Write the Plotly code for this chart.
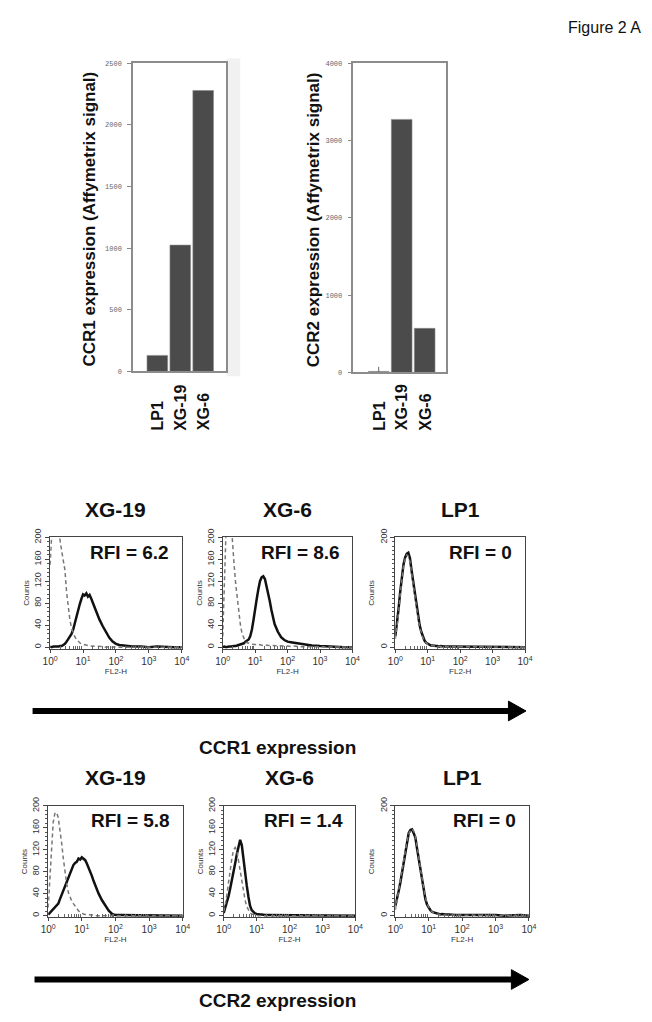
import plotly.graph_objects as go

# page body has an 8px default margin: the figure is placed at (8, 8)
OFF = 8
W, H = 644, 1014

# ---------------- data ----------------
affy_lines = ["LP1", "XG-19", "XG-6"]
ccr1_affy = [130, 1025, 2280]
ccr2_affy = [12, 3275, 570]
ccr2_affy_err = [60, 0, 0]

# FL2-H channel values (log scale 10^0 .. 10^4)
fl2_h = [1.00, 1.12, 1.26, 1.41, 1.58, 1.78, 2.00, 2.24, 2.51, 2.82, 3.16, 3.55, 3.98, 4.47, 5.01,
         5.62, 6.31, 7.08, 7.94, 8.91, 10.0, 11.2, 12.6, 14.1, 15.8, 17.8, 20.0, 22.4, 25.1, 28.2,
         31.6, 39.8, 50.1, 63.1, 79.4, 100, 126, 158, 200, 251, 316, 562, 1000, 1778, 3162, 5623, 10000]

# CCR1 staining (solid) and isotype control (dashed)
ccr1_xg19_stain = [1, 0, 1, 1, 0, 1, 2, 2, 4, 6, 10, 14, 18, 24, 32, 44, 58, 68, 78, 88, 96, 94, 98, 92, 95,
                   88, 80, 74, 66, 58, 50, 38, 26, 17, 10, 6, 4, 3, 2, 2, 1, 1, 0, 1, 0, 0, 0]
ccr1_xg19_iso = [150, 240, 300, 320, 290, 240, 195, 175, 160, 140, 100, 72, 50, 35, 26, 19, 14, 10, 8, 6, 5, 4,
                 3, 3, 2, 2, 2, 1, 2, 1, 1, 1, 0, 1, 0, 1, 0, 0, 1, 0, 0, 0, 0, 0, 0, 0, 0]
ccr1_xg6_stain = [0, 1, 0, 1, 1, 1, 2, 2, 2, 3, 3, 4, 5, 7, 10, 12, 14, 20, 32, 50, 66, 88, 106, 120, 127,
                  129, 124, 112, 98, 84, 68, 42, 28, 18, 13, 10, 9, 8, 7, 6, 5, 3, 2, 1, 0, 0, 0]
ccr1_xg6_iso = [20, 120, 230, 300, 280, 230, 190, 150, 115, 85, 58, 38, 24, 15, 10, 8, 7, 6, 6, 5, 5, 4, 5, 4,
                4, 3, 4, 3, 3, 3, 3, 2, 2, 2, 2, 2, 1, 2, 1, 1, 1, 1, 0, 0, 0, 0, 0]
ccr1_lp1_stain = [20, 40, 70, 100, 130, 150, 163, 170, 172, 162, 140, 118, 98, 75, 55, 40, 28, 18, 12, 8, 6,
                  4, 3, 3, 2, 2, 2, 1, 2, 1, 1, 1, 1, 0, 0, 1, 0, 0, 0, 0, 0, 0, 0, 0, 0, 0, 0]
ccr1_lp1_iso = [15, 35, 62, 95, 125, 148, 160, 168, 166, 155, 135, 112, 92, 70, 52, 37, 25, 17, 11, 7, 5, 4,
                3, 2, 2, 2, 1, 1, 1, 1, 1, 1, 0, 0, 0, 0, 0, 0, 0, 0, 0, 0, 0, 0, 0, 0, 0]

# CCR2 staining (solid) and isotype control (dashed)
ccr2_xg19_stain = [2, 5, 8, 11, 14, 18, 22, 30, 38, 46, 55, 63, 71, 78, 85, 92, 96, 98, 104, 102, 106, 104,
                   101, 95, 88, 80, 72, 63, 55, 47, 40, 28, 18, 9, 3, 1, 1, 1, 0, 1, 1, 1, 1, 0, 1, 0, 0]
ccr2_xg19_iso = [15, 70, 130, 170, 186, 188, 178, 158, 132, 104, 78, 58, 42, 33, 27, 22, 17, 12, 9, 6, 4, 3,
                 2, 2, 1, 1, 1, 1, 0, 0, 1, 0, 0, 0, 0, 0, 0, 0, 0, 0, 0, 0, 0, 0, 0, 0, 0]
ccr2_xg6_stain = [5, 14, 25, 36, 50, 64, 78, 96, 112, 128, 138, 128, 100, 75, 55, 35, 18, 10, 6, 4, 3, 2, 2,
                  2, 1, 1, 1, 1, 0, 1, 0, 0, 0, 0, 0, 0, 0, 0, 0, 0, 0, 0, 0, 0, 0, 0, 0]
ccr2_xg6_iso = [8, 20, 40, 62, 85, 105, 120, 124, 118, 100, 80, 60, 42, 28, 17, 10, 5, 3, 2, 1, 1, 0, 0, 0,
                0, 0, 0, 0, 0, 0, 0, 0, 0, 0, 0, 0, 0, 0, 0, 0, 0, 0, 0, 0, 0, 0, 0]
ccr2_lp1_stain = [18, 35, 45, 60, 78, 100, 120, 138, 150, 156, 157, 150, 142, 122, 104, 82, 62, 45, 30, 20,
                  14, 10, 7, 6, 4, 3, 3, 2, 3, 2, 2, 2, 1, 1, 1, 1, 1, 2, 1, 1, 1, 1, 1, 0, 1, 1, 0]
ccr2_lp1_iso = [10, 28, 42, 58, 76, 98, 118, 136, 148, 155, 158, 154, 145, 128, 108, 86, 66, 48, 33, 22, 15,
                10, 7, 5, 4, 3, 2, 2, 1, 1, 1, 1, 0, 0, 0, 0, 0, 0, 0, 0, 0, 0, 0, 0, 0, 0, 0]

cell_lines_flow = ["XG-19", "XG-6", "LP1"]
rfi_ccr1 = ["6.2", "8.6", "0"]
rfi_ccr2 = ["5.8", "1.4", "0"]

# ---------------- helpers (window pixel -> paper) ----------------
def fx(px):
    return (px - OFF) / W

def fy(py):
    return 1 - (py - OFF) / H

FONT = "Liberation Sans, Arial, sans-serif"
MONO = "Liberation Mono, Courier New, monospace"

fig = go.Figure()
layout = dict(
    width=W, height=H, autosize=False,
    margin=dict(l=0, r=0, t=0, b=0),
    paper_bgcolor="white", plot_bgcolor="white",
    showlegend=False, font=dict(family=FONT, color="#111"),
)
annotations = []
shapes = []

# ---------------- Affymetrix bar charts ----------------
bar_specs = [
    ("x", "y", (128, 223), (55, 367), ccr1_affy, None, 2500, 500, -1.06, 2.98,
     "CCR1 expression (Affymetrix signal)", 83),
    ("x2", "y2", (354, 449), (55, 368), ccr2_affy, ccr2_affy_err, 4000, 1000, -1.1, 2.93,
     "CCR2 expression (Affymetrix signal)", 313),
]
for xa, ya, (x0, x1), (y0, y1), vals, err, ymax, dt, r0, r1, title, tx in bar_specs:
    bar = go.Bar(x=affy_lines, y=vals, xaxis=xa, yaxis=ya, width=0.9,
                 marker=dict(color="#4b4b4b", line=dict(color="#8a8a8a", width=0.6)))
    if err is not None:
        bar.error_y = dict(type="data", array=err, visible=True, width=0, thickness=1, color="#666")
    fig.add_trace(bar)
    xk = "xaxis" + xa[1:]
    yk = "yaxis" + ya[1:]
    layout[xk] = dict(domain=[fx(x0), fx(x1)], anchor=ya, type="category", range=[r0, r1],
                      showticklabels=False, ticks="", showline=True, mirror=True,
                      linecolor="#8c8c8c", linewidth=1.5, showgrid=False, zeroline=False)
    layout[yk] = dict(domain=[fy(y1), fy(y0)], anchor=xa, range=[0, ymax], dtick=dt,
                      tickfont=dict(family=MONO, size=7, color="#666"), ticks="outside",
                      ticklen=4, tickcolor="#888", ticklabelstandoff=4, showline=True, mirror=True,
                      linecolor="#8c8c8c", linewidth=1.5, showgrid=False, zeroline=False)
    annotations.append(dict(text="<b>" + title + "</b>", xref="paper", yref="paper",
                            x=fx(tx), y=fy((y0 + y1) / 2 + 2), textangle=-90, showarrow=False,
                            font=dict(size=17, family=FONT, color="#111"),
                            xanchor="center", yanchor="middle"))
    for c in affy_lines:
        annotations.append(dict(text="<b>" + c + "</b>", xref=xa, yref="paper", x=c,
                                y=fy(429), textangle=-90, showarrow=False,
                                font=dict(size=16, family=FONT, color="#111"),
                                xanchor="center", yanchor="bottom"))

# light grey strip right of first bar chart
shapes.append(dict(type="rect", xref="paper", yref="paper", x0=fx(224), x1=fx(238),
                   y0=fy(372), y1=fy(50), fillcolor="#f1f1f1", line=dict(width=0), layer="below"))

annotations.append(dict(text="Figure 2 A", xref="paper", yref="paper", x=fx(651), y=fy(19),
                        xanchor="right", yanchor="middle", showarrow=False,
                        font=dict(size=16, family=FONT, color="#111")))

# ---------------- flow cytometry histograms ----------------
minor_x = [m * 10 ** d for d in range(4) for m in range(2, 10)]
hist_specs = [
    (ccr1_xg19_stain, ccr1_xg19_iso, (43, 178), (535, 648), 0, rfi_ccr1[0], 507),
    (ccr1_xg6_stain, ccr1_xg6_iso, (220, 353), (535, 648), 1, rfi_ccr1[1], 507),
    (ccr1_lp1_stain, ccr1_lp1_iso, (397, 530), (535, 648), 2, rfi_ccr1[2], 507),
    (ccr2_xg19_stain, ccr2_xg19_iso, (41, 179), (807, 920), 0, rfi_ccr2[0], 778),
    (ccr2_xg6_stain, ccr2_xg6_iso, (221, 356), (807, 920), 1, rfi_ccr2[1], 778),
    (ccr2_lp1_stain, ccr2_lp1_iso, (397, 534), (807, 920), 2, rfi_ccr2[2], 778),
]
for i, (stain, iso, (x0, x1), (y0, y1), ci, rfi, ty) in enumerate(hist_specs):
    n = i + 3
    xa, ya = "x%d" % n, "y%d" % n
    fig.add_trace(go.Scatter(x=fl2_h, y=stain, xaxis=xa, yaxis=ya, mode="lines",
                             line=dict(color="#111", width=2.5), hoverinfo="skip"))
    fig.add_trace(go.Scatter(x=fl2_h, y=iso, xaxis=xa, yaxis=ya, mode="lines",
                             line=dict(color="#777", width=1.5, dash="4px,3px"), hoverinfo="skip"))
    yt = [0, 200] if ci == 2 else [0, 40, 80, 120, 160, 200]
    layout["xaxis%d" % n] = dict(
        domain=[fx(x0), fx(x1)], anchor=ya, type="log", range=[0, 4],
        tickvals=[1, 10, 100, 1000, 10000],
        ticktext=["10<sup>0</sup>", "10<sup>1</sup>", "10<sup>2</sup>", "10<sup>3</sup>", "10<sup>4</sup>"],
        tickfont=dict(size=10, family=FONT, color="#333"), ticks="outside", ticklen=3,
        tickcolor="#444", minor=dict(tickvals=minor_x, ticks="inside", ticklen=3, tickcolor="#666"),
        showline=True, mirror=True, linecolor="#444", linewidth=1.3, showgrid=False, zeroline=False,
        title=dict(text="FL2-H", font=dict(size=8, family=FONT, color="#333"), standoff=1))
    layout["yaxis%d" % n] = dict(
        domain=[fy(y1), fy(y0)], anchor=xa, range=[-3, 200], tickvals=yt, tickangle=-90,
        tickfont=dict(size=9, family=FONT, color="#333"), ticks="outside", ticklen=4,
        tickcolor="#444", minor=dict(dtick=8, ticks="outside", ticklen=2, tickcolor="#555"),
        showline=True, mirror=True, linecolor="#444", linewidth=1.3, showgrid=False, zeroline=False,
        title=dict(text="Counts", font=dict(size=8, family=FONT, color="#333"), standoff=2))
    annotations.append(dict(text="<b>RFI = " + rfi + "</b>", xref="paper", yref="paper",
                            x=fx(x1 - 11), y=fy(y0 + 15), xanchor="right", yanchor="middle",
                            showarrow=False, font=dict(size=19, family=FONT, color="#111")))
    annotations.append(dict(text="<b>" + cell_lines_flow[ci] + "</b>", xref="paper", yref="paper",
                            x=fx((x0 + x1) / 2), y=fy(ty), xanchor="center", yanchor="middle",
                            showarrow=False, font=dict(size=21, family=FONT, color="#111")))

# arrows and expression labels
for ay, xl, xr, lab, ly in [(711, 25, 531, "CCR1 expression", 748), (983, 27, 534, "CCR2 expression", 1004)]:
    shapes.append(dict(type="line", xref="paper", yref="paper", x0=fx(xl), x1=fx(xr - 16),
                       y0=fy(ay), y1=fy(ay), line=dict(color="#000", width=6)))
    shapes.append(dict(type="path", xref="paper", yref="paper",
                       path="M %f %f L %f %f L %f %f Z" % (fx(xr - 18), fy(ay - 10), fx(xr), fy(ay),
                                                         fx(xr - 18), fy(ay + 10)),
                       fillcolor="#000", line=dict(color="#000", width=1)))
    annotations.append(dict(text="<b>" + lab + "</b>", xref="paper", yref="paper", x=fx(276),
                            y=fy(ly), xanchor="center", yanchor="middle", showarrow=False,
                            font=dict(size=19, family=FONT, color="#111")))

layout["annotations"] = annotations
layout["shapes"] = shapes
fig.update_layout(**layout)
fig.write_html("out.html")
